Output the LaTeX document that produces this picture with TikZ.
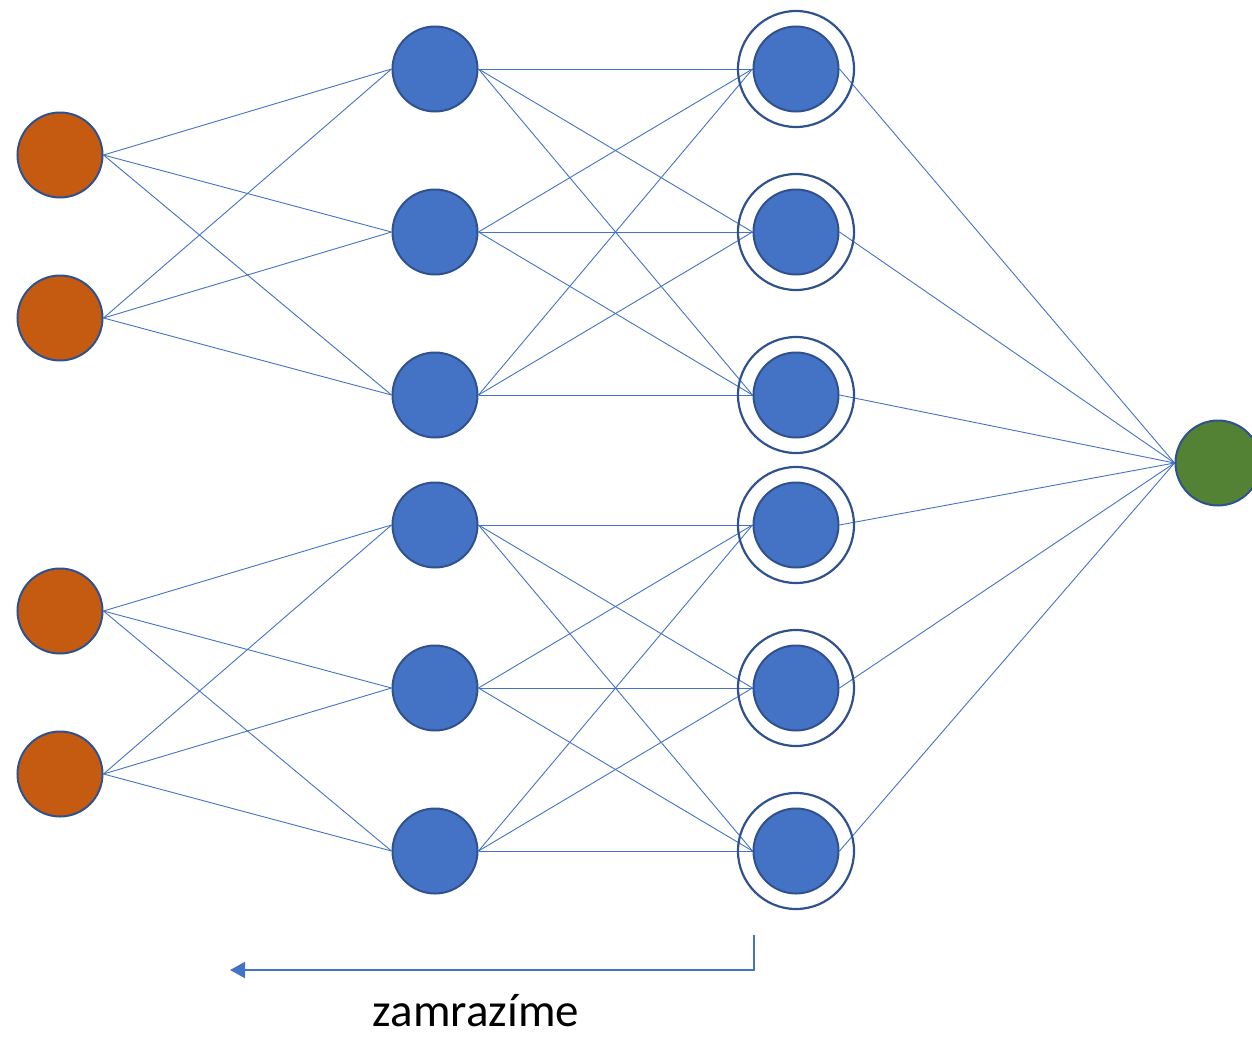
\documentclass[tikz,border=0pt]{standalone}
\usepackage{fontspec}
\setmainfont{Carlito}
\usetikzlibrary{arrows.meta,backgrounds}
\definecolor{nodeblue}{HTML}{4472C4}
\definecolor{rimblue}{HTML}{2F528F}
\definecolor{inorange}{HTML}{C55A11}
\definecolor{outgreen}{HTML}{548235}
\tikzset{
  neuron/.style={circle,inner sep=0pt,minimum size=85pt,draw=rimblue,line width=2pt},
  inputnode/.style={neuron,fill=inorange},
  hiddennode/.style={neuron,fill=nodeblue},
  outputnode/.style={neuron,fill=outgreen},
  ring/.style={circle,inner sep=0pt,minimum size=116pt,draw=rimblue,line width=2.2pt},
  link/.style={draw=nodeblue,line width=0.9pt},
  freezearrow/.style={draw=nodeblue,line width=2pt,-{Triangle[length=15pt,width=16pt]}}
}
\begin{document}
\begin{tikzpicture}[x=1pt,y=-1pt]
\useasboundingbox (0,0) rectangle (1252,1036);

% input layer
\foreach \i/\y in {1/155,2/318,3/611,4/774}
  \node[inputnode] (i\i) at (60,\y) {};

% first hidden layer
\foreach \i/\y in {1/69,2/232,3/395,4/525,5/688,6/851}
  \node[hiddennode] (a\i) at (435,\y) {};

% second hidden layer, each neuron inside a ring
\foreach \i/\y in {1/69,2/232,3/395,4/525,5/688,6/851}{
  \node[ring] (r\i) at (796,\y) {};
  \node[hiddennode] (b\i) at (796,\y) {};
}

% output
\node[outputnode] (o) at (1218,463) {};

\begin{pgfonlayer}{background}
  % upper block
  \foreach \s in {1,2}
    \foreach \t in {1,2,3}
      \draw[link] (i\s.east) -- (a\t.west);
  \foreach \s in {1,2,3}
    \foreach \t in {1,2,3}
      \draw[link] (a\s.east) -- (b\t.west);
  % lower block
  \foreach \s in {3,4}
    \foreach \t in {4,5,6}
      \draw[link] (i\s.east) -- (a\t.west);
  \foreach \s in {4,5,6}
    \foreach \t in {4,5,6}
      \draw[link] (a\s.east) -- (b\t.west);
  % to output
  \foreach \s in {1,...,6}
    \draw[link] (b\s.east) -- (o.west);
\end{pgfonlayer}

% freeze arrow and label
\coordinate (fstart) at (754,935);
\coordinate (fcorner) at (754,970);
\coordinate (fend) at (230,970);
\draw[freezearrow] (fstart) -- (fcorner) -- (fend);
\node[anchor=base,inner sep=0pt,text depth=0pt,font=\fontsize{47}{56}\selectfont] (lbl) at (476,1026) {zamrazíme};
\end{tikzpicture}
\end{document}
